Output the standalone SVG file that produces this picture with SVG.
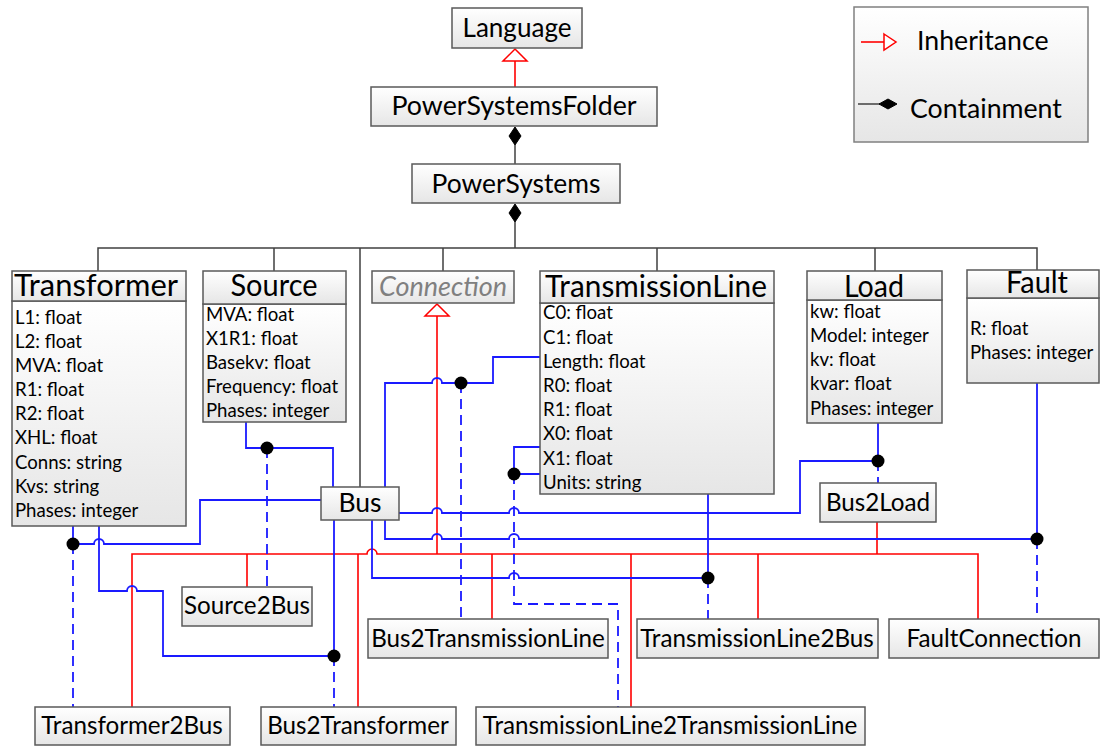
<svg xmlns="http://www.w3.org/2000/svg" width="1102" height="746" viewBox="0 0 1102 746">
  <style>
    .box { fill: url(#boxFill); stroke: #5a5a5a; stroke-width: 1.5; }
    .legend { fill: url(#boxFill); stroke: #808080; stroke-width: 1.5; }
    .t { font-family: Lato, "Open Sans", sans-serif; fill: #000; }
    .title { font-size: 30px; text-anchor: middle; }
    .name { font-size: 26.5px; text-anchor: middle; }
    .small { font-size: 24.2px; text-anchor: middle; }
    .row { font-size: 18.6px; }
    .abstract { font-style: italic; fill: #808080; }
    .tree { fill: none; stroke: #404040; stroke-width: 1.5; }
    .inh { fill: none; stroke: #ff0000; stroke-width: 1.6; }
    .tri { fill: #ffffff; stroke: #ff0000; stroke-width: 1.5; }
    .dia { fill: #000; stroke: #000; stroke-width: 1; }
    .rel { fill: none; stroke: #1a1aff; stroke-width: 1.8; }
    .ref { fill: none; stroke: #1a1aff; stroke-width: 1.8; stroke-dasharray: 10 6; }
    .dot { fill: #000; }
  </style>
  <defs>
    <linearGradient id="boxFill" x1="0" y1="0" x2="0" y2="1">
      <stop offset="0" stop-color="#ffffff"/>
      <stop offset="1" stop-color="#e6e6e6"/>
    </linearGradient>
  </defs>

  <!-- connectors -->
  <g id="connectors">
    <!-- containment tree -->
    <path class="inh" d="M515 87 V61"/>
    <polygon class="tri" points="515,49 527,61 503,61"/>
    <path class="tree" d="M515 145 V164"/>
    <polygon class="dia" points="515,127 521,136 515,145 509,136"/>
    <path class="tree" d="M515 222 V248"/>
    <polygon class="dia" points="515,204 521,213 515,222 509,213"/>
    <path class="tree" d="M98 271 V248 H1037 V270 M274 248 V271 M360 248 V487 M443 248 V271 M657 248 V271 M875 248 V271"/>

    <!-- inheritance from Connection -->
    <path class="inh" d="M437 554 V316"/>
    <polygon class="tri" points="437,304 449,316 425,316"/>
    <path class="inh" d="M132 707 V554 H367 A5 5 0 0 1 377 554 H978 V619 M247 554 V587 M358 554 V707 M492 554 V619 M631 554 V707 M758 554 V619 M877 522 V554"/>

    <!-- references -->
    <path class="rel" d="M246 422 V448 H333 V487"/>
    <path class="ref" d="M267 448 V587"/>
    <path class="rel" d="M385 487 V383 H432 A5 5 0 0 1 442 383 H493 V357 H540"/>
    <path class="ref" d="M461 383 V619"/>
    <path class="rel" d="M540 447 H514 V474 H540"/>
    <path class="ref" d="M514 474 V604 H618 V707"/>
    <path class="rel" d="M708 494 V578"/>
    <path class="ref" d="M708 578 V619"/>
    <path class="rel" d="M878 423 V461"/>
    <path class="ref" d="M878 461 V483"/>
    <path class="rel" d="M399 513 H432 A5 5 0 0 1 442 513 H509 A5 5 0 0 1 519 513 H800 V461 H878"/>
    <path class="rel" d="M1037 383 V539"/>
    <path class="ref" d="M1037 539 V619"/>
    <path class="rel" d="M385 520 V539 H432 A5 5 0 0 1 442 539 H509 A5 5 0 0 1 519 539 H1037"/>
    <path class="rel" d="M372 520 V578 H509 A5 5 0 0 1 519 578 H708"/>
    <path class="rel" d="M73 526 V544 H94 A5 5 0 0 1 104 544 H200 V500 H321"/>
    <path class="ref" d="M73 544 V707"/>
    <path class="rel" d="M99 526 V591 H127 A5 5 0 0 1 137 591 H163 V656 H334"/>
    <path class="rel" d="M334 520 V656"/>
    <path class="ref" d="M334 656 V707"/>

    <circle class="dot" cx="267" cy="448" r="6.5"/>
    <circle class="dot" cx="461" cy="383" r="6.5"/>
    <circle class="dot" cx="514" cy="474" r="6.5"/>
    <circle class="dot" cx="708" cy="578" r="6.5"/>
    <circle class="dot" cx="878" cy="461" r="6.5"/>
    <circle class="dot" cx="1037" cy="539" r="6.5"/>
    <circle class="dot" cx="73" cy="544" r="6.5"/>
    <circle class="dot" cx="334" cy="656" r="6.5"/>
  </g>

  <!-- top hierarchy -->
  <g id="language">
    <rect class="box" x="452" y="8" width="130" height="40"/>
    <text class="t name" x="517" y="37" textLength="109" lengthAdjust="spacingAndGlyphs">Language</text>
  </g>
  <g id="power-systems-folder">
    <rect class="box" x="371" y="87" width="286" height="39"/>
    <text class="t name" x="514" y="115" textLength="245" lengthAdjust="spacingAndGlyphs">PowerSystemsFolder</text>
  </g>
  <g id="power-systems">
    <rect class="box" x="412" y="164" width="208" height="39"/>
    <text class="t name" x="516" y="193" textLength="169" lengthAdjust="spacingAndGlyphs">PowerSystems</text>
  </g>

  <!-- classes -->
  <g id="transformer">
    <rect class="box" x="12" y="301" width="174" height="225"/>
    <rect class="box" x="12" y="271" width="174" height="30"/>
    <text class="t title" x="96" y="296" textLength="164" lengthAdjust="spacingAndGlyphs">Transformer</text>
    <text class="t row" x="15" y="324">L1: float</text>
    <text class="t row" x="15" y="348">L2: float</text>
    <text class="t row" x="15" y="372">MVA: float</text>
    <text class="t row" x="15" y="396">R1: float</text>
    <text class="t row" x="15" y="420">R2: float</text>
    <text class="t row" x="15" y="444">XHL: float</text>
    <text class="t row" x="15" y="469">Conns: string</text>
    <text class="t row" x="15" y="493">Kvs: string</text>
    <text class="t row" x="15" y="517">Phases: integer</text>
  </g>
  <g id="source">
    <rect class="box" x="203" y="304" width="143" height="118"/>
    <rect class="box" x="203" y="271" width="143" height="33"/>
    <text class="t title" x="274" y="296" textLength="87" lengthAdjust="spacingAndGlyphs">Source</text>
    <text class="t row" x="206" y="321">MVA: float</text>
    <text class="t row" x="206" y="345">X1R1: float</text>
    <text class="t row" x="206" y="369">Basekv: float</text>
    <text class="t row" x="206" y="393">Frequency: float</text>
    <text class="t row" x="206" y="417">Phases: integer</text>
  </g>
  <g id="connection">
    <rect class="box" x="372" y="271" width="142" height="32"/>
    <text class="t name abstract" x="443" y="296" textLength="128" lengthAdjust="spacingAndGlyphs">Connection</text>
  </g>
  <g id="transmission-line">
    <rect class="box" x="540" y="303" width="234" height="191"/>
    <rect class="box" x="540" y="271" width="234" height="32"/>
    <text class="t title" x="656" y="297" textLength="222" lengthAdjust="spacingAndGlyphs">TransmissionLine</text>
    <text class="t row" x="543" y="319">C0: float</text>
    <text class="t row" x="543" y="344">C1: float</text>
    <text class="t row" x="543" y="368">Length: float</text>
    <text class="t row" x="543" y="392">R0: float</text>
    <text class="t row" x="543" y="416">R1: float</text>
    <text class="t row" x="543" y="440">X0: float</text>
    <text class="t row" x="543" y="465">X1: float</text>
    <text class="t row" x="543" y="489">Units: string</text>
  </g>
  <g id="load">
    <rect class="box" x="807" y="300" width="135" height="123"/>
    <rect class="box" x="807" y="271" width="135" height="29"/>
    <text class="t title" x="874" y="297" textLength="60" lengthAdjust="spacingAndGlyphs">Load</text>
    <text class="t row" x="810" y="318">kw: float</text>
    <text class="t row" x="810" y="342">Model: integer</text>
    <text class="t row" x="810" y="366">kv: float</text>
    <text class="t row" x="810" y="390">kvar: float</text>
    <text class="t row" x="810" y="415">Phases: integer</text>
  </g>
  <g id="fault">
    <rect class="box" x="967" y="298" width="132" height="85"/>
    <rect class="box" x="967" y="270" width="132" height="28"/>
    <text class="t title" x="1037" y="293" textLength="62" lengthAdjust="spacingAndGlyphs">Fault</text>
    <text class="t row" x="970" y="335">R: float</text>
    <text class="t row" x="970" y="359">Phases: integer</text>
  </g>
  <g id="bus">
    <rect class="box" x="321" y="487" width="78" height="33"/>
    <text class="t name" x="360" y="512">Bus</text>
  </g>
  <g id="bus2load">
    <rect class="box" x="820" y="483" width="116" height="39"/>
    <text class="t small" x="878" y="511">Bus2Load</text>
  </g>

  <!-- connection classes -->
  <g id="source2bus">
    <rect class="box" x="182" y="587" width="130" height="39"/>
    <text class="t small" x="247" y="614">Source2Bus</text>
  </g>
  <g id="bus2transmissionline">
    <rect class="box" x="368" y="619" width="240" height="39"/>
    <text class="t small" x="488" y="647">Bus2TransmissionLine</text>
  </g>
  <g id="transmissionline2bus">
    <rect class="box" x="637" y="619" width="241" height="39"/>
    <text class="t small" x="757" y="647">TransmissionLine2Bus</text>
  </g>
  <g id="faultconnection">
    <rect class="box" x="889" y="619" width="210" height="39"/>
    <text class="t small" x="994" y="647">FaultConnection</text>
  </g>
  <g id="transformer2bus">
    <rect class="box" x="35" y="707" width="195" height="38"/>
    <text class="t small" x="132" y="734">Transformer2Bus</text>
  </g>
  <g id="bus2transformer">
    <rect class="box" x="261" y="707" width="195" height="38"/>
    <text class="t small" x="358" y="734">Bus2Transformer</text>
  </g>
  <g id="transmissionline2transmissionline">
    <rect class="box" x="476" y="707" width="389" height="38"/>
    <text class="t small" x="670" y="734">TransmissionLine2TransmissionLine</text>
  </g>

  <!-- legend -->
  <g id="legend">
    <rect class="legend" x="854" y="7" width="234" height="135"/>
    <path class="inh" d="M861 42 H884"/>
    <polygon class="tri" points="884,34 896,42 884,50"/>
    <text class="t" x="917" y="50" font-size="26.7">Inheritance</text>
    <path class="tree" d="M858 104 H880"/>
    <polygon class="dia" points="879,104 888,99 897,104 888,109"/>
    <text class="t" x="910" y="118" font-size="26.7">Containment</text>
  </g>
</svg>
